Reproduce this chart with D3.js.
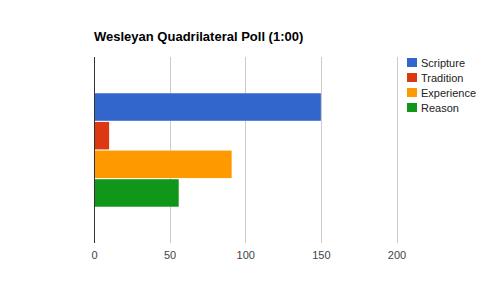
<!DOCTYPE html>
<html>
<head>
<meta charset="utf-8">
<script src="https://cdn.jsdelivr.net/npm/d3@7"></script>
<style>
  body { margin: 0; background: #fff; }
  svg { display: block; font-family: "Liberation Sans", Arial, sans-serif; }
</style>
</head>
<body>
<svg id="chart"></svg>
<script>
const title = "Wesleyan Quadrilateral Poll (1:00)";
const seriesNames = ["Scripture", "Tradition", "Experience", "Reason"];
const seriesValues = [150, 10, 91, 56];
const seriesColors = ["#3366cc", "#dc3912", "#ff9900", "#109618"];
const xTicks = [0, 50, 100, 150, 200];

const width = 490, height = 302;
const margin = { top: 57, right: 93.5, bottom: 59, left: 94 };
const innerW = width - margin.left - margin.right;
const innerH = height - margin.top - margin.bottom;

const svg = d3.select("#chart").attr("width", width).attr("height", height);

svg.append("text")
  .attr("x", margin.left)
  .attr("y", 41)
  .attr("font-size", 13)
  .attr("font-weight", "bold")
  .attr("fill", "#000")
  .text(title);

const g = svg.append("g").attr("transform", `translate(${margin.left},${margin.top})`);

const x = d3.scaleLinear().domain([0, 200]).range([0, innerW]);

// single category group takes ~61.8% of the height
const groupH = innerH * 0.61;
const y = d3.scaleBand()
  .domain(seriesNames)
  .range([(innerH - groupH) / 2, (innerH + groupH) / 2])
  .paddingInner(0.04);

// gridlines
g.append("g")
  .selectAll("line")
  .data(xTicks.slice(1))
  .join("line")
  .attr("x1", d => Math.round(x(d)) + 0.5)
  .attr("x2", d => Math.round(x(d)) + 0.5)
  .attr("y1", 0)
  .attr("y2", innerH)
  .attr("stroke", "#cccccc");

// bars
g.append("g")
  .selectAll("rect")
  .data(seriesNames)
  .join("rect")
  .attr("x", 0)
  .attr("y", d => y(d))
  .attr("width", (d, i) => x(seriesValues[i]))
  .attr("height", y.bandwidth())
  .attr("fill", (d, i) => seriesColors[i]);

// baseline
g.append("line")
  .attr("x1", 0.5).attr("x2", 0.5)
  .attr("y1", 0).attr("y2", innerH)
  .attr("stroke", "#333");

// tick labels
const xAxis = d3.axisBottom(x).tickValues(xTicks).tickSize(0).tickPadding(8);
const ax = g.append("g")
  .attr("transform", `translate(0,${innerH})`)
  .call(xAxis);
ax.select(".domain").remove();
ax.selectAll("text")
  .attr("font-family", "Liberation Sans, Arial, sans-serif")
  .attr("font-size", 11)
  .attr("fill", "#444");

// legend
const legend = svg.append("g").attr("transform", "translate(407,58)");
const items = legend.selectAll("g")
  .data(seriesNames)
  .join("g")
  .attr("transform", (d, i) => `translate(0,${i * 15})`);
items.append("rect")
  .attr("width", 10).attr("height", 9)
  .attr("fill", (d, i) => seriesColors[i]);
items.append("text")
  .attr("x", 14).attr("y", 8.5)
  .attr("font-size", 11)
  .attr("fill", "#222")
  .text(d => d);
</script>
</body>
</html>
